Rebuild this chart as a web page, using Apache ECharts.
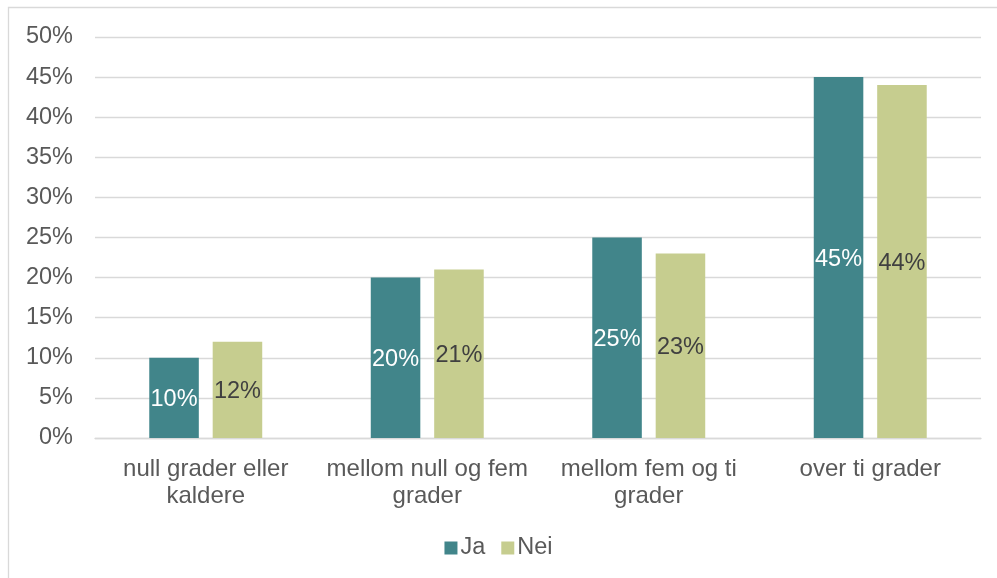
<!DOCTYPE html>
<html>
<head>
<meta charset="utf-8">
<script src="https://cdn.jsdelivr.net/npm/echarts@6/dist/echarts.min.js"></script>
<style>
  html, body { margin: 0; padding: 0; background: #ffffff; }
  #chart { width: 997px; height: 578px; }
</style>
</head>
<body>
<div id="chart"></div>
<script>
// Temperature categories (labels broken across two lines where they wrap)
const categories = [
  'null grader eller\nkaldere',
  'mellom null og fem\ngrader',
  'mellom fem og ti\ngrader',
  'over ti grader'
];
// Share of answers, in percent
const jaValues  = [10, 20, 25, 45];
const neiValues = [12, 21, 23, 44];
const seriesNames = ['Ja', 'Nei'];

const textColor = '#595959';
const gridColor = '#d9d9d9';
const fontFamily = '"Liberation Sans", Arial, sans-serif';

const chart = echarts.init(document.getElementById('chart'), null, { renderer: 'canvas' });

chart.setOption({
  animation: false,
  backgroundColor: '#ffffff',
  textStyle: { fontFamily: fontFamily },
  graphic: [{
    type: 'rect',
    shape: { x: 8.5, y: 7.5, width: 1000, height: 600 },
    style: { fill: 'none', stroke: '#d9d9d9', lineWidth: 1.3 },
    silent: true,
    z: -1
  }],
  grid: { left: 95, right: 16, top: 37, bottom: 140, containLabel: false },
  legend: {
    data: seriesNames,
    left: 'center',
    top: 531,
    icon: 'rect',
    itemWidth: 13,
    itemHeight: 13,
    itemGap: 16,
    textStyle: { color: textColor, fontSize: 23.5, fontFamily: fontFamily, padding: [0, 0, 0, -2] }
  },
  xAxis: {
    type: 'category',
    data: categories,
    axisLine: { show: true, lineStyle: { color: gridColor, width: 1.3 } },
    axisTick: { show: false },
    axisLabel: {
      color: textColor,
      fontSize: 24,
      lineHeight: 27,
      margin: 18,
      fontFamily: fontFamily,
      interval: 0
    }
  },
  yAxis: {
    type: 'value',
    min: 0,
    max: 50,
    interval: 5,
    axisLine: { show: false },
    axisTick: { show: false },
    splitLine: { lineStyle: { color: gridColor, width: 1.3 } },
    axisLabel: {
      color: textColor,
      fontSize: 23.5,
      margin: 22,
      fontFamily: fontFamily,
      formatter: '{value}%'
    }
  },
  series: [
    {
      name: seriesNames[0],
      type: 'bar',
      data: jaValues,
      barGap: '28%',
      barCategoryGap: '49%',
      itemStyle: { color: '#41858a' },
      label: {
        show: true,
        position: 'inside',
        offset: [0, 2],
        color: '#ffffff',
        fontSize: 23.5,
        fontFamily: fontFamily,
        formatter: '{c}%'
      }
    },
    {
      name: seriesNames[1],
      type: 'bar',
      data: neiValues,
      itemStyle: { color: '#c6cd8f' },
      label: {
        show: true,
        position: 'inside',
        offset: [0, 2],
        color: '#404040',
        fontSize: 23.5,
        fontFamily: fontFamily,
        formatter: '{c}%'
      }
    }
  ]
});
</script>
</body>
</html>
